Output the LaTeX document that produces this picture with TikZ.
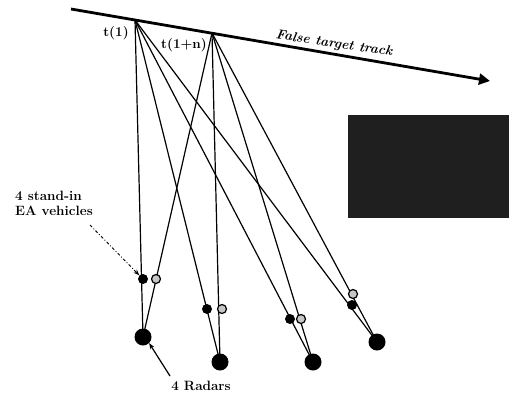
\documentclass[tikz,border=0pt]{standalone}
\usetikzlibrary{arrows.meta}
\tikzset{
  radar/.style={circle,fill=black,inner sep=0pt,minimum size=17pt},
  ea/.style={circle,fill=black,inner sep=0pt,minimum size=10pt},
  eaf/.style={circle,draw=black,fill=gray!45,line width=1.2pt,inner sep=0pt,minimum size=9pt},
  lbl/.style={font=\fontsize{13.5}{15}\selectfont\bfseries,align=left,inner sep=0pt}
}
\begin{document}
\begin{tikzpicture}[x=1pt,y=-1pt]
\useasboundingbox (0,0) rectangle (514,394);
\coordinate (s) at (71,9);
\coordinate (e) at (490,81);
\draw[line width=2.8pt,-{Triangle[length=11pt,width=11pt]}] (s)--(e);
\coordinate (t1) at (135,20);
\coordinate (tn) at (212,33);
\node[lbl] at (116,33) {t(1)};
\node[lbl] at (184,45) {t(1+n)};
\node[lbl,font=\fontsize{13.5}{15}\selectfont\bfseries\itshape,rotate=-8.5] at (334,44) {False target track};
\node[radar] (r1) at (143,337) {};
\node[radar] (r2) at (220,362) {};
\node[radar] (r3) at (313,362) {};
\node[radar] (r4) at (377,342) {};
\foreach \r in {r1,r2,r3,r4}{
  \draw[line width=1.2pt] (t1)--(\r.center);
  \draw[line width=1.2pt] (tn)--(\r.center);
}
\node[ea] (v1) at (143,279) {};
\node[eaf] (w1) at (156,279) {};
\node[ea] (v2) at (207,309) {};
\node[eaf] (w2) at (222,309) {};
\node[ea] (v3) at (290,319) {};
\node[eaf] (w3) at (301,319) {};
\node[eaf] (w4) at (353,294) {};
\node[ea] (v4) at (352,305) {};
% unreadable block
\fill[black!88] (348,115) rectangle (509,218);
\node[lbl] (eal) at (54,203) {4 stand-in\\EA vehicles};
\coordinate (eaa) at (90,225);
\draw[line width=0.9pt,dash dot,-{Stealth[length=6pt]}] (eaa)--(v1.north west);
\node[lbl] (rl) at (201,386) {4 Radars};
\coordinate (ra) at (170,376);
\draw[line width=1.2pt,-{Stealth[length=6pt]}] (ra)--(r1.south east);
\end{tikzpicture}
\end{document}
